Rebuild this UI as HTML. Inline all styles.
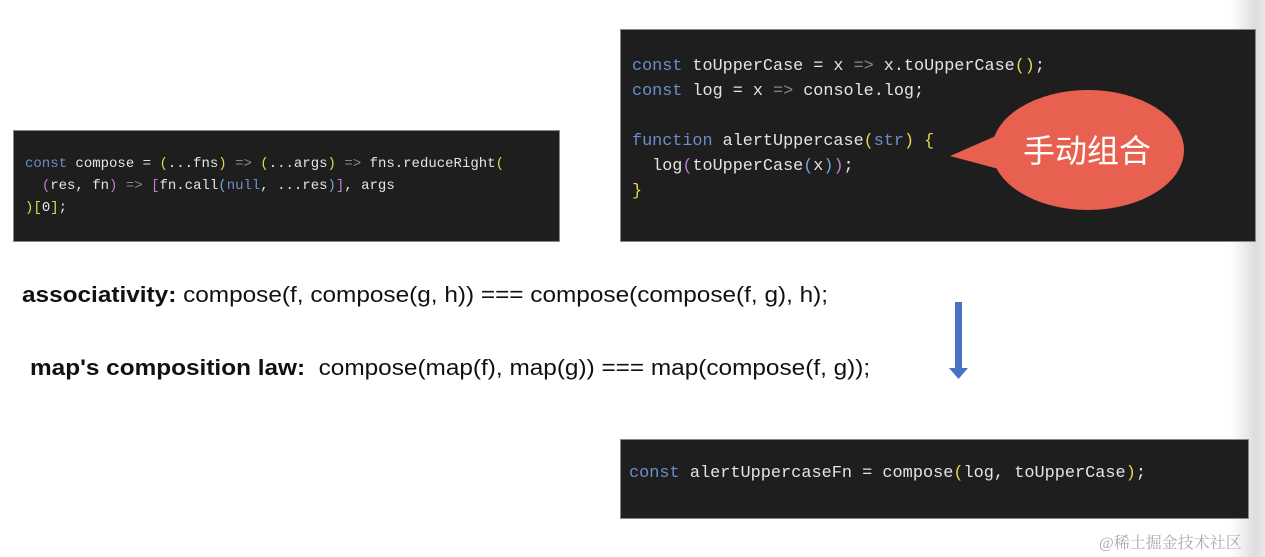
<!DOCTYPE html>
<html><head><style>
body{margin:0;width:1265px;height:557px;background:#fff;position:relative;overflow:hidden;font-family:"Liberation Sans",sans-serif}
.box{position:absolute;background:#1e1e1e;border:1px solid #888;box-sizing:border-box}
.code{position:absolute;font-family:"Liberation Mono",monospace;color:#e4e4e4;white-space:pre}
.k{color:#6a8fc8}.y{color:#e6d84a}.b{color:#6aa8e0}.p{color:#c678dd}.g{color:#888}
.t{position:absolute;font-size:22px;color:#111;white-space:pre;transform-origin:0 0;transform:scaleX(1.107)}
</style></head><body>
<div style="position:absolute;left:1230px;top:0;width:35px;height:557px;background:linear-gradient(to right,#fff,#eee 40%,#ddd 70%,#e8e8e8)"></div>
<div class="box" style="left:13px;top:130px;width:547px;height:112px"></div>
<div class="code" style="left:25px;top:153px;font-size:14px;line-height:22px"><span class="k">const</span> compose = <span class="y">(</span>...fns<span class="y">)</span> <span class="g">=&gt;</span> <span class="y">(</span>...args<span class="y">)</span> <span class="g">=&gt;</span> fns.reduceRight<span class="y">(</span>
  <span class="p">(</span>res, fn<span class="p">)</span> <span class="g">=&gt;</span> <span class="p">[</span>fn.call<span class="b">(</span><span class="k">null</span>, ...res<span class="b">)</span><span class="p">]</span>, args
<span class="y">)[</span>0<span class="y">]</span>;</div>
<div class="box" style="left:620px;top:29px;width:636px;height:213px"></div>
<div class="code" style="left:632px;top:54px;font-size:16.8px;line-height:25px"><span class="k">const</span> toUpperCase = x <span class="g">=&gt;</span> x.toUpperCase<span class="y">()</span>;
<span class="k">const</span> log = x <span class="g">=&gt;</span> console.log;

<span class="k">function</span> alertUppercase<span class="y">(</span><span class="k">str</span><span class="y">)</span> <span class="y">{</span>
  log<span class="p">(</span>toUpperCase<span class="b">(</span>x<span class="b">)</span><span class="p">)</span>;
<span class="y">}</span></div>
<svg style="position:absolute;left:0;top:0" width="1265" height="557">
<ellipse cx="1088" cy="150" rx="96" ry="60" fill="#e8604f"/>
<polygon points="950,156 1005,132 1010,172" fill="#e8604f"/>
<text x="1087" y="162" fill="#fff" font-size="32" text-anchor="middle" font-family="Noto Sans CJK SC,sans-serif">手动组合</text>
<rect x="955" y="302" width="7" height="66" fill="#4a72c4"/>
<polygon points="949,368 968,368 958.5,379" fill="#4a72c4"/>
</svg>
<div class="t" style="left:22px;top:282px"><b>associativity:</b> compose(f, compose(g, h)) === compose(compose(f, g), h);</div>
<div class="t" style="left:30px;top:355px"><b>map's composition law:</b>  compose(map(f), map(g)) === map(compose(f, g));</div>
<div class="box" style="left:620px;top:439px;width:629px;height:80px"></div>
<div class="code" style="left:629px;top:464px;font-size:16.9px;line-height:20px"><span class="k">const</span> alertUppercaseFn = compose<span class="y">(</span>log, toUpperCase<span class="y">)</span>;</div>
<div style="position:absolute;left:1099px;top:530px;font-size:16px;color:#aaa;font-family:'Liberation Serif','Noto Serif CJK SC',serif">@稀土掘金技术社区</div>
</body></html>
